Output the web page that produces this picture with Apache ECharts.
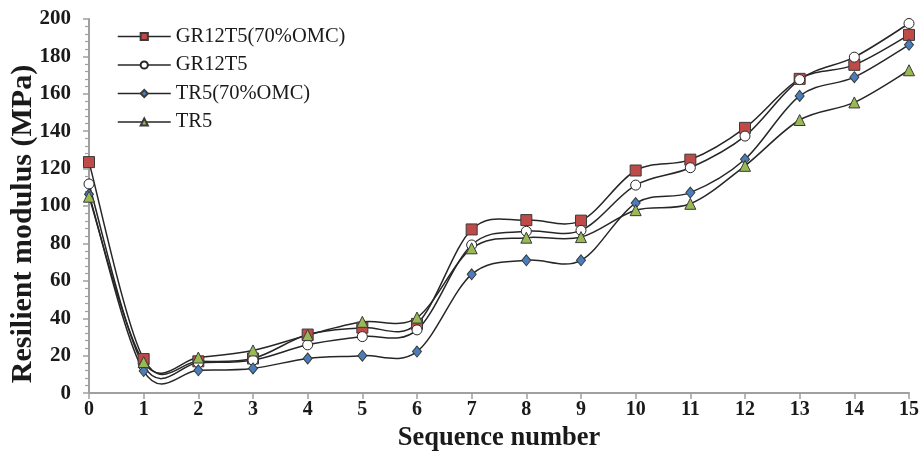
<!DOCTYPE html>
<html>
<head>
<meta charset="utf-8">
<script src="https://cdn.jsdelivr.net/npm/echarts@6/dist/echarts.min.js"></script>
<style>
html,body{margin:0;padding:0;background:#fff;}
#c{width:924px;height:457px;}
</style>
</head>
<body>
<div id="c"></div>
<script>
const categories = ['0','1','2','3','4','5','6','7','8','9','10','11','12','13','14','15'];
const seriesNames = ['GR12T5(70%OMC)', 'GR12T5', 'TR5(70%OMC)', 'TR5'];
const gr12t5_70 = [123.5, 18.2, 17.0, 18.5, 31.3, 35.0, 37.0, 87.5, 92.5, 92.2, 119.0, 124.8, 141.8, 168.0, 175.5, 191.5];
const gr12t5    = [111.8, 14.5, 16.2, 17.6, 25.8, 30.2, 33.8, 79.2, 86.5, 87.0, 111.2, 120.5, 137.4, 167.6, 179.6, 197.6];
const tr5_70    = [106.3, 11.8, 12.2, 13.2, 18.5, 20.0, 22.2, 63.5, 71.0, 71.0, 101.6, 107.2, 125.0, 158.9, 168.9, 186.2];
const tr5       = [105.0, 16.6, 19.0, 22.8, 31.0, 38.1, 40.4, 77.4, 83.1, 83.4, 97.8, 101.2, 121.5, 146.0, 155.4, 172.6];
const yTicks = [0, 20, 40, 60, 80, 100, 120, 140, 160, 180, 200];

const FONT = "'Liberation Serif', 'Times New Roman', serif";
const chart = echarts.init(document.getElementById('c'), null, {renderer: 'canvas'});

const styles = [
  {symbol: 'rect', symbolSize: 11, color: '#BE4B48', border: '#3a3a3a'},
  {symbol: 'circle', symbolSize: 10, color: '#FFFFFF', border: '#262626'},
  {symbol: 'diamond', symbolSize: [9, 11], color: '#4A7EBB', border: '#3a3a3a'},
  {symbol: 'triangle', symbolSize: 11, color: '#98B954', border: '#3a3a3a'}
];
const datas = [gr12t5_70, gr12t5, tr5_70, tr5];
const LINE_COLOR = '#262626';

// Smooth curve (cardinal / Catmull-Rom, like a spreadsheet "smoothed line"), one bezier segment per data interval,
// positioned through the chart's own axes via api.coord.
function curveSeries(values, idx) {
  const segIdx = values.slice(0, values.length - 1).map((v, i) => i);
  return {
    type: 'custom',
    name: seriesNames[idx] + '_curve',
    silent: true,
    z: 1,
    data: segIdx,
    encode: {x: -1, y: -1},
    renderItem: function (params, api) {
      const i = params.dataIndex;
      const n = values.length;
      const P = k => api.coord([Math.max(0, Math.min(n - 1, k)), values[Math.max(0, Math.min(n - 1, k))]]);
      const p0 = P(i - 1), p1 = P(i), p2 = P(i + 1), p3 = P(i + 2);
      const t = 1 / 6;
      return {
        type: 'bezierCurve',
        shape: {
          x1: p1[0], y1: p1[1],
          cpx1: p1[0] + (p2[0] - p0[0]) * t, cpy1: p1[1] + (p2[1] - p0[1]) * t,
          cpx2: p2[0] - (p3[0] - p1[0]) * t, cpy2: p2[1] - (p3[1] - p1[1]) * t,
          x2: p2[0], y2: p2[1]
        },
        style: {stroke: LINE_COLOR, lineWidth: 1.5, fill: null}
      };
    }
  };
}

const markerSeries = datas.map((d, i) => ({
  name: seriesNames[i],
  type: 'line',
  data: d,
  symbol: styles[i].symbol,
  symbolSize: styles[i].symbolSize,
  showAllSymbol: true,
  lineStyle: {color: LINE_COLOR, width: 1.5, opacity: 0},
  itemStyle: {color: styles[i].color, borderColor: styles[i].border, borderWidth: 1},
  emphasis: {disabled: true},
  z: 3 + i
}));

const curves = datas.map((d, i) => curveSeries(d, i));

chart.setOption({
  animation: false,
  backgroundColor: '#fff',
  grid: {left: 89, right: 15, top: 19, bottom: 60, containLabel: false},
  legend: {
    orient: 'vertical',
    left: 117,
    top: 26,
    padding: 0,
    itemWidth: 53,
    itemHeight: 9,
    itemGap: 7.5,
    data: seriesNames,
    lineStyle: {color: LINE_COLOR, width: 1.5, opacity: 1},
    textStyle: {fontFamily: FONT, fontSize: 20.5, color: '#1a1a1a', lineHeight: 21}
  },
  xAxis: {
    type: 'category',
    data: categories,
    boundaryGap: false,
    name: 'Sequence number',
    nameLocation: 'middle',
    nameGap: 29,
    nameTextStyle: {fontFamily: FONT, fontSize: 26.5, fontWeight: 'bold', color: '#1a1a1a'},
    axisLine: {lineStyle: {color: '#A0A0A0', width: 2}},
    axisTick: {show: true, alignWithLabel: true, length: 6, inside: false, lineStyle: {color: '#A0A0A0', width: 1.5}},
    axisLabel: {fontFamily: FONT, fontSize: 20, fontWeight: 'bold', color: '#1a1a1a', margin: 7, interval: 0},
    splitLine: {show: false}
  },
  yAxis: {
    type: 'value',
    min: yTicks[0],
    max: yTicks[yTicks.length - 1],
    interval: 20,
    axisLine: {show: true, lineStyle: {color: '#A0A0A0', width: 2}},
    axisTick: {show: true, length: 6, inside: false, lineStyle: {color: '#A0A0A0', width: 1.5}},
    minorTick: {show: true, splitNumber: 5, length: 4, lineStyle: {color: '#A0A0A0', width: 1.2}},
    axisLabel: {fontFamily: FONT, fontSize: 21, fontWeight: 'bold', color: '#1a1a1a', margin: 18},
    splitLine: {show: false}
  },
  graphic: [{
    type: 'text',
    x: 23,
    y: 224,
    rotation: Math.PI / 2,
    style: {
      text: 'Resilient modulus (MPa)',
      fontFamily: FONT,
      fontSize: 30,
      fontWeight: 'bold',
      fill: '#1a1a1a',
      textAlign: 'center',
      textVerticalAlign: 'middle'
    }
  }],
  series: curves.concat(markerSeries)
});
</script>
</body>
</html>
